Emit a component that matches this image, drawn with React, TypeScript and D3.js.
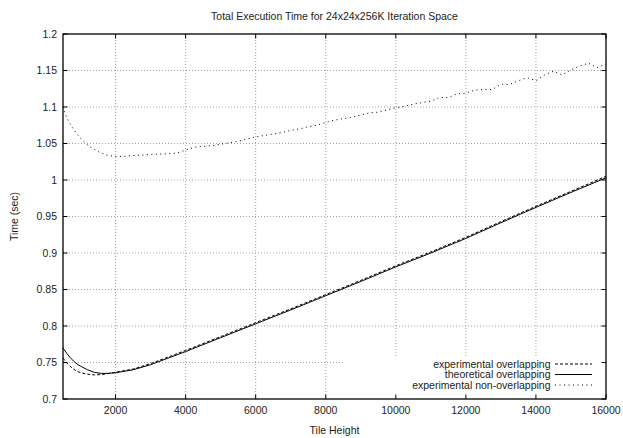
import React from "react";
import * as d3 from "d3";

const title = "Total Execution Time for 24x24x256K Iteration Space";
const xLabel = "Tile Height";
const yLabel = "Time (sec)";
const xTicks = [2000, 4000, 6000, 8000, 10000, 12000, 14000, 16000];
const yTicks = [0.7, 0.75, 0.8, 0.85, 0.9, 0.95, 1, 1.05, 1.1, 1.15, 1.2];
const seriesNames = ["experimental overlapping", "theoretical overlapping", "experimental non-overlapping"];

const overlapX = [500, 600, 700, 800, 900, 1000, 1200, 1400, 1600, 1800, 2000, 2500, 3000, 3500, 4000, 5000, 6000, 7000, 8000, 9000, 10000, 11000, 12000, 13000, 14000, 15000, 16000];
const theoretical = [0.770, 0.763, 0.757, 0.752, 0.748, 0.745, 0.740, 0.7365, 0.735, 0.7352, 0.736, 0.740, 0.747, 0.756, 0.765, 0.784, 0.803, 0.822, 0.8415, 0.861, 0.881, 0.900, 0.920, 0.9415, 0.9625, 0.983, 1.003];
const experimentalOverlap = [0.756, 0.750, 0.745, 0.741, 0.738, 0.736, 0.734, 0.733, 0.7335, 0.735, 0.7365, 0.741, 0.7485, 0.7575, 0.7665, 0.7855, 0.8045, 0.8235, 0.843, 0.8625, 0.8825, 0.9015, 0.9215, 0.943, 0.964, 0.9845, 1.005];

const nonOverlapX = [500, 600, 750, 900, 1000, 1250, 1500, 1750, 2000, 2250, 2500, 2750, 3000, 3250, 3500, 3750, 4000, 4250, 4500, 4750, 5000, 5250, 5500, 5750, 6000, 6250, 6500, 6750, 7000, 7250, 7500, 7750, 8000, 8250, 8500, 8750, 9000, 9250, 9500, 9750, 10000, 10250, 10500, 10750, 11000, 11250, 11500, 11750, 12000, 12250, 12500, 12750, 13000, 13250, 13500, 13750, 14000, 14250, 14500, 14750, 15000, 15250, 15500, 15750, 16000];
const nonOverlap = [1.100, 1.086, 1.073, 1.063, 1.057, 1.046, 1.039, 1.034, 1.032, 1.0325, 1.0335, 1.034, 1.035, 1.0355, 1.036, 1.037, 1.041, 1.045, 1.046, 1.047, 1.049, 1.051, 1.053, 1.056, 1.059, 1.061, 1.063, 1.065, 1.068, 1.070, 1.073, 1.075, 1.079, 1.082, 1.084, 1.086, 1.089, 1.092, 1.093, 1.096, 1.099, 1.101, 1.104, 1.106, 1.108, 1.113, 1.113, 1.118, 1.119, 1.123, 1.124, 1.124, 1.131, 1.131, 1.136, 1.140, 1.136, 1.144, 1.149, 1.144, 1.151, 1.156, 1.160, 1.154, 1.159];

const W = 623, H = 438;
const M = { left: 63, right: 606, top: 34, bottom: 399 };
const FONT = "'Liberation Sans', Arial, Helvetica, sans-serif";

export default function App() {
  const x = d3.scaleLinear().domain([500, 16000]).range([M.left, M.right]);
  const y = d3.scaleLinear().domain([0.7, 1.2]).range([M.bottom, M.top]);
  const line = d3.line<[number, number]>().x(d => x(d[0])).y(d => y(d[1]));
  const pts = (xs: number[], ys: number[]) => xs.map((v, i) => [v, ys[i]] as [number, number]);

  const legend = { left: 345, top: 357 };
  const legRows = [364, 374.5, 385];
  const styles = [
    { dash: "3,2", w: 1 },
    { dash: "none", w: 1 },
    { dash: "1,3.5", w: 1 },
  ];
  const data = [pts(overlapX, experimentalOverlap), pts(overlapX, theoretical), pts(nonOverlapX, nonOverlap)];
  const tickLen = 4.5;

  return (
    <svg width={W} height={H} style={{ position: "absolute", left: 0, top: 0, background: "#fff" }} fontFamily={FONT}>
      <rect x={0} y={0} width={W} height={H} fill="#fff" />
      {/* grid */}
      <g stroke="#8a8a8a" strokeWidth={0.8} strokeDasharray="1,2">
        {xTicks.filter(t => t < 16000).map(t => (
          <line key={"gx" + t} x1={x(t)} x2={x(t)} y1={M.top} y2={M.bottom} />
        ))}
        {yTicks.filter(t => t > 0.7 && t < 1.2).map(t => (
          <line key={"gy" + t} x1={M.left} x2={M.right} y1={y(t)} y2={y(t)} />
        ))}
      </g>
      {/* opaque key area */}
      <rect x={legend.left} y={legend.top} width={M.right - legend.left} height={M.bottom - legend.top} fill="#fff" />
      {/* curves */}
      <g fill="none" stroke="#000">
        {data.map((d, i) => (
          <path key={"s" + i} d={line(d) || ""} strokeWidth={styles[i].w} strokeDasharray={styles[i].dash} />
        ))}
      </g>
      {/* border & ticks */}
      <rect x={M.left} y={M.top} width={M.right - M.left} height={M.bottom - M.top} fill="none" stroke="#000" strokeWidth={1.3} />
      <g stroke="#000" strokeWidth={1}>
        {xTicks.map(t => (
          <g key={"tx" + t}>
            <line x1={x(t)} x2={x(t)} y1={M.bottom} y2={M.bottom - tickLen} />
            <line x1={x(t)} x2={x(t)} y1={M.top} y2={M.top + tickLen} />
          </g>
        ))}
        {yTicks.map(t => (
          <g key={"ty" + t}>
            <line x1={M.left} x2={M.left + tickLen} y1={y(t)} y2={y(t)} />
            <line x1={M.right} x2={M.right - tickLen} y1={y(t)} y2={y(t)} />
          </g>
        ))}
      </g>
      {/* tick labels */}
      <g fontSize={10.5} fill="#222">
        {xTicks.map(t => (
          <text key={"lx" + t} x={x(t)} y={414} textAnchor="middle">{String(t)}</text>
        ))}
        {yTicks.map(t => (
          <text key={"ly" + t} x={57} y={y(t) + 3.7} textAnchor="end">{String(+t.toFixed(2))}</text>
        ))}
      </g>
      {/* titles */}
      <text x={(M.left + M.right) / 2} y={19.5} textAnchor="middle" fontSize={10.5} fill="#222">{title}</text>
      <text x={(M.left + M.right) / 2} y={434} textAnchor="middle" fontSize={10.5} fill="#222">{xLabel}</text>
      <text transform={`translate(18,${(M.top + M.bottom) / 2}) rotate(-90)`} textAnchor="middle" fontSize={10.5} fill="#222">{yLabel}</text>
      {/* legend */}
      <g fontSize={10.5} fill="#222">
        {seriesNames.map((n, i) => (
          <g key={"lg" + i}>
            <text x={550.5} y={legRows[i] + 3.7} textAnchor="end">{n}</text>
            <line x1={555} x2={592} y1={legRows[i]} y2={legRows[i]} stroke="#000" strokeWidth={1} strokeDasharray={styles[i].dash} />
          </g>
        ))}
      </g>
    </svg>
  );
}
